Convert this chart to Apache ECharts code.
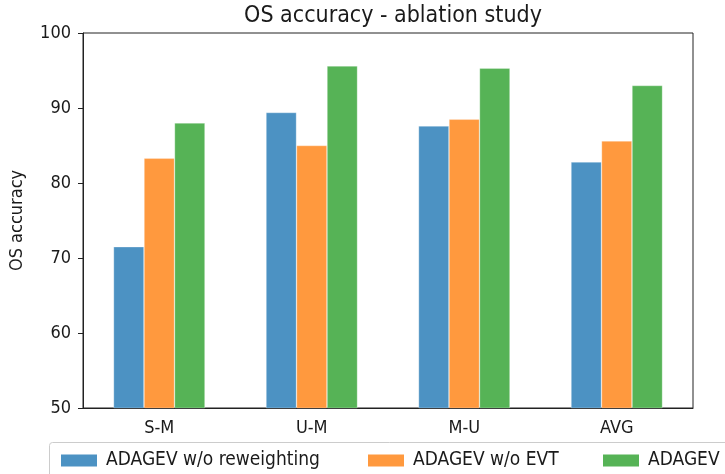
<!DOCTYPE html>
<html>
<head>
<meta charset="utf-8">
<script src="https://cdn.jsdelivr.net/npm/echarts@6/dist/echarts.min.js"></script>
<style>
  html, body { margin: 0; padding: 0; background: #fff; }
  #chart { width: 725px; height: 474px; }
</style>
</head>
<body>
<div id="chart"></div>
<script>
var categories = ['S-M', 'U-M', 'M-U', 'AVG'];
var seriesNames = ['ADAGEV w/o reweighting', 'ADAGEV w/o EVT', 'ADAGEV'];
var noReweighting = [71.5, 89.4, 87.6, 82.8];
var noEvt = [83.3, 85.0, 88.5, 85.6];
var adagev = [88.0, 95.6, 95.3, 93.0];
var yTicks = [50, 60, 70, 80, 90, 100];

var myColor = ['#4c92c3', '#ff993e', '#56b356'];
var font = '"DejaVu Sans Condensed", "DejaVu Sans"';

var chart = echarts.init(document.getElementById('chart'));

function makeSeries(name, data, color) {
  return {
    name: name,
    type: 'bar',
    data: data,
    barWidth: '20%',
    barGap: '0%',
    itemStyle: {
      color: color,
      borderColor: 'rgba(255,255,255,0.45)',
      borderWidth: 0.6
    },
    animation: false
  };
}

function makeLegend(name, left) {
  return {
    data: [name],
    left: left,
    top: 446,
    itemWidth: 36,
    itemHeight: 12,
    icon: 'rect',
    itemStyle: { borderWidth: 0 },
    textStyle: { fontFamily: font, fontSize: 19, color: '#1a1a1a', padding: [0, 0, 0, 4] }
  };
}

chart.setOption({
  animation: false,
  color: myColor,
  title: {
    text: 'OS accuracy - ablation study',
    left: 388,
    textAlign: 'center',
    top: 0,
    textStyle: { fontFamily: font, fontSize: 23, fontWeight: 'normal', color: '#1a1a1a' }
  },
  legend: [
    makeLegend(seriesNames[0], 56),
    makeLegend(seriesNames[1], 363),
    makeLegend(seriesNames[2], 598)
  ],
  graphic: [{
    type: 'rect',
    shape: { x: 49.5, y: 442.5, width: 720, height: 60, r: 3 },
    style: { fill: 'none', stroke: '#cccccc', lineWidth: 1 },
    z: 0
  }],
  grid: {
    left: 82,
    right: 32,
    top: 33,
    bottom: 66,
    show: true,
    borderColor: '#222',
    borderWidth: 1
  },
  xAxis: {
    type: 'category',
    data: categories,
    axisLine: { lineStyle: { color: '#222' } },
    axisTick: { alignWithLabel: true, length: 5, lineStyle: { color: '#222' } },
    axisLabel: { fontFamily: font, fontSize: 18, color: '#1a1a1a', margin: 11 }
  },
  yAxis: {
    type: 'value',
    name: 'OS accuracy',
    nameLocation: 'middle',
    nameGap: 57,
    nameTextStyle: { fontFamily: font, fontSize: 18, color: '#1a1a1a' },
    min: yTicks[0],
    max: yTicks[yTicks.length - 1],
    interval: 10,
    axisLine: { show: true, lineStyle: { color: '#222' } },
    axisTick: { show: true, length: 5, lineStyle: { color: '#222' } },
    splitLine: { show: false },
    axisLabel: { fontFamily: font, fontSize: 18, color: '#1a1a1a', margin: 12 }
  },
  series: [
    makeSeries(seriesNames[0], noReweighting, myColor[0]),
    makeSeries(seriesNames[1], noEvt, myColor[1]),
    makeSeries(seriesNames[2], adagev, myColor[2])
  ]
});
</script>
</body>
</html>
